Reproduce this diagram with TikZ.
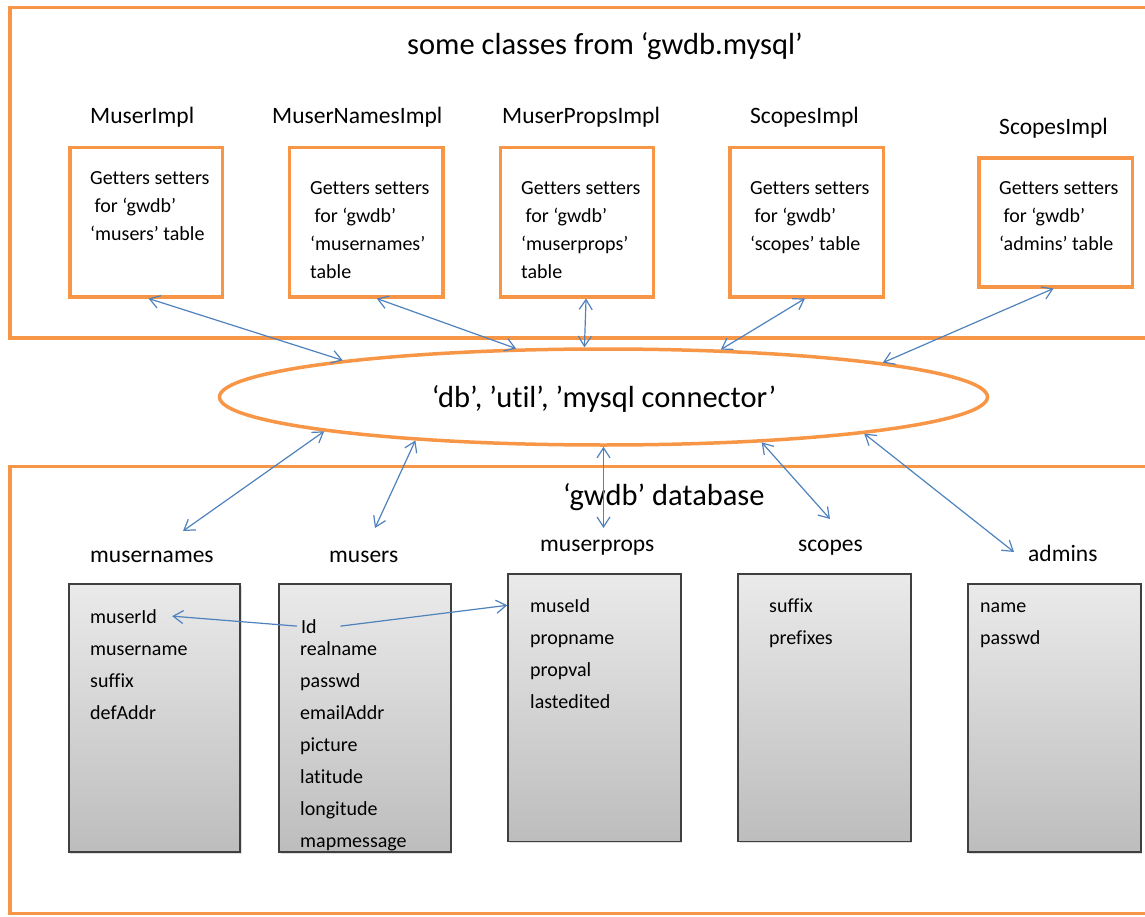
\documentclass[tikz,border=0pt]{standalone}
\usepackage{fontspec}
\setmainfont{Carlito}[RawFeature={-liga;-clig;-calt;-rlig;-dlig}]
\usetikzlibrary{arrows.meta,shadows,shapes.geometric}

\definecolor{frameorange}{HTML}{F79646}
\definecolor{linkblue}{HTML}{4F81BD}
\definecolor{tabtop}{HTML}{EAEAEA}
\definecolor{tabbot}{HTML}{BDBDBD}
\definecolor{tabedge}{HTML}{3F3F3F}

\begin{document}
\begin{tikzpicture}[x=1pt,y=-1pt,
  frame/.style={draw=frameorange,line width=3.5pt},
  classbox/.style={draw=frameorange,line width=3.5pt,rectangle,inner sep=0pt,anchor=north west},
  tablebox/.style={draw=tabedge,line width=1.8pt,rectangle,inner sep=0pt,anchor=north west,
    top color=tabtop,bottom color=tabbot,
    drop shadow={shadow xshift=1.5pt,shadow yshift=-2pt,opacity=0.25}},
  bigtext/.style={anchor=base west,inner sep=0pt,font=\fontsize{30.5}{36}\selectfont},
  headtext/.style={anchor=base west,inner sep=0pt,font=\fontsize{23.5}{28}\selectfont},
  boxtext/.style={anchor=base west,inner sep=0pt,font=\fontsize{20}{24}\selectfont},
  tip/.tip={Straight Barb[length=10pt,width=13pt]},
  link/.style={draw=linkblue,line width=1.2pt,{tip}-{tip}},
  onelink/.style={draw=linkblue,line width=1.2pt,-{tip}}
]
\useasboundingbox (0,0) rectangle (1145,917);

% ---------- upper frame: classes ----------
\draw[frame] (1152,7.5) -- (10,7.5) -- (10,338) -- (1152,338);
\node[bigtext] (title) at (407,55) {some classes from ‘gwdb.mysql’};

\node[headtext] (h1) at (90,124)  {MuserImpl};
\node[headtext] (h2) at (272,124) {MuserNamesImpl};
\node[headtext] (h3) at (502,124) {MuserPropsImpl};
\node[headtext] (h4) at (750,124) {ScopesImpl};
\node[headtext] (h5) at (999,135) {ScopesImpl};

\node[classbox,minimum width=152.5pt,minimum height=149pt] (b1) at (68,146) {};
\node[classbox,minimum width=153.5pt,minimum height=149pt] (b2) at (287.5,146) {};
\node[classbox,minimum width=153pt,minimum height=149pt] (b3) at (498.5,146) {};
\node[classbox,minimum width=153.5pt,minimum height=149pt] (b4) at (728,146) {};
\node[classbox,minimum width=153.5pt,minimum height=128.5pt] (b5) at (977,156.5) {};

\node[boxtext] (b1t1) at (90,185) {Getters setters};
\node[boxtext] (b1t2) at (90,213) {\ for ‘gwdb’};
\node[boxtext] (b1t3) at (90,241) {‘musers’ table};

\node[boxtext] (b2t1) at (310,195) {Getters setters};
\node[boxtext] (b2t2) at (310,223) {\ for ‘gwdb’};
\node[boxtext] (b2t3) at (310,251) {‘musernames’};
\node[boxtext] (b2t4) at (310,279) {table};

\node[boxtext] (b3t1) at (521,195) {Getters setters};
\node[boxtext] (b3t2) at (521,223) {\ for ‘gwdb’};
\node[boxtext] (b3t3) at (521,251) {‘muserprops’};
\node[boxtext] (b3t4) at (521,279) {table};

\node[boxtext] (b4t1) at (750,195) {Getters setters};
\node[boxtext] (b4t2) at (750,223) {\ for ‘gwdb’};
\node[boxtext] (b4t3) at (750,251) {‘scopes’ table};

\node[boxtext] (b5t1) at (999,195) {Getters setters};
\node[boxtext] (b5t2) at (999,223) {\ for ‘gwdb’};
\node[boxtext] (b5t3) at (999,251) {‘admins’ table};

% ---------- middle layer ----------
\node[ellipse,draw=frameorange,line width=3.5pt,inner sep=0pt,
      minimum width=768pt,minimum height=96pt] (ell) at (603.5,397) {};
\node[anchor=base,inner sep=0pt,font=\fontsize{30.5}{36}\selectfont] (conn) at (604,407)
  {‘db’, ’util’, ’mysql connector’};

% ---------- lower frame: database ----------
\draw[frame] (1152,466.5) -- (10,466.5) -- (10,913.5) -- (1152,913.5);
\node[bigtext] (dbtitle) at (563,505) {‘gwdb’ database};

\node[headtext] (t1) at (90,562.7)  {musernames};
\node[headtext] (t2) at (329,562.7) {musers};
\node[headtext] (t3) at (540,551)   {muserprops};
\node[headtext] (t4) at (798,551.5) {scopes};
\node[headtext] (t5) at (1028,561.7) {admins};

\node[tablebox,minimum width=171.6pt,minimum height=267.4pt] (g1) at (67.7,583.3) {};
\node[tablebox,minimum width=171.7pt,minimum height=267.4pt] (g2) at (278.3,583.3) {};
\node[tablebox,minimum width=172.7pt,minimum height=267.2pt] (g3) at (507.3,573.3) {};
\node[tablebox,minimum width=172.7pt,minimum height=267.2pt] (g4) at (737.3,573.3) {};
\node[tablebox,minimum width=173.3pt,minimum height=267.4pt] (g5) at (966.7,583.3) {};

\node[boxtext] (muserid) at (90,623) {muserId};
\node[boxtext] (f1b) at (90,655) {musername};
\node[boxtext] (f1c) at (90,687) {suffix};
\node[boxtext] (f1d) at (90,719) {defAddr};

\node[boxtext] (id)  at (301,633) {Id};
\node[boxtext] (f2b) at (300,655) {realname};
\node[boxtext] (f2c) at (300,687) {passwd};
\node[boxtext] (f2d) at (300,719) {emailAddr};
\node[boxtext] (f2e) at (300,751) {picture};
\node[boxtext] (f2f) at (300,783) {latitude};
\node[boxtext] (f2g) at (300,815) {longitude};
\node[boxtext] (f2h) at (300,847) {mapmessage};

\node[boxtext] (museid) at (530,612) {museId};
\node[boxtext] (f3b) at (530,644) {propname};
\node[boxtext] (f3c) at (530,676) {propval};
\node[boxtext] (f3d) at (530,708) {lastedited};

\node[boxtext] (f4a) at (769,612) {suffix};
\node[boxtext] (f4b) at (769,644) {prefixes};

\node[boxtext] (f5a) at (980,612) {name};
\node[boxtext] (f5b) at (980,644) {passwd};

% free ends of the links into the database frame
\coordinate (e1) at (183,531);
\coordinate (e2) at (375,528);
\coordinate (e3) at (603.5,528);
\coordinate (e4) at (830,519);
\coordinate (e5) at (1014,552);

% ---------- links ----------
\draw[link] ([xshift=2.5pt]b1.south) -- (ell.172.7);
\draw[link] ([xshift=10.75pt]b2.south) -- (ell.151.9);
\draw[link] ([xshift=9.3pt]b3.south) -- (ell.111.8);
\draw[link] ([xshift=-1.5pt]b4.south) -- (ell.22.75);
\draw[link] ([xshift=-2pt]b5.south) -- (ell.7.33);

\draw[link] (ell.187.3) -- (e1);
\draw[link] (ell.193.8) -- (e2);
\draw[link] (ell.270) -- (e3);
\draw[link] (ell.344.1) -- (e4);
\draw[link] (ell.352.9) -- (e5);

\draw[onelink] ([xshift=-4pt]id.west) -- ([xshift=15pt]muserid.east);
\draw[onelink] ([xshift=23.5pt]id.east) -- ([yshift=-32pt]g3.north west);
\end{tikzpicture}
\end{document}
